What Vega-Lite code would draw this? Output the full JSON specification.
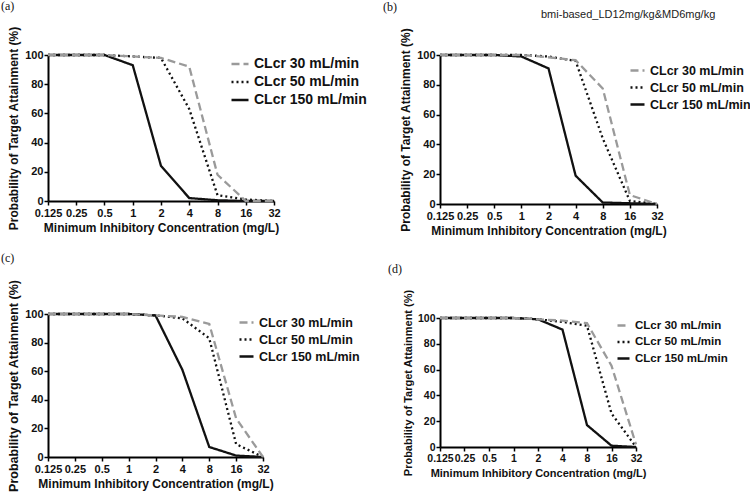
{
  "$schema": "https://vega.github.io/schema/vega-lite/v6.json",
  "padding": {"left": 1, "top": 0, "right": 0, "bottom": 0},
  "background": "white",
  "title": {"text": "bmi-based_LD12mg/kg&MD6mg/kg", "anchor": "start", "frame": "bounds", "offset": -20, "dx": 540, "font": "Liberation Sans", "fontSize": 11, "fontWeight": "normal", "color": "#222"},
  "config": {
    "view": {"stroke": null},
    "axis": {"domainColor": "#000", "domainWidth": 2, "tickColor": "#000", "tickWidth": 1.5, "tickSize": 4, "labelFont": "Liberation Sans", "labelFontWeight": "bold", "labelFontSize": 11, "labelColor": "#111", "titleFont": "Liberation Sans", "titleFontWeight": "bold", "titleFontSize": 12, "titleColor": "#111", "grid": false, "labelPadding": 1, "labelFlush": false, "labelOverlap": false},
    "axisX": {"labelPadding": 2, "titlePadding": 4},
    "axisY": {"titlePadding": 4},
    "legend": {"title": null, "orient": "none", "symbolType": "stroke", "symbolStrokeWidth": 2.5, "labelFont": "Liberation Sans", "labelFontWeight": "bold", "labelColor": "#111", "labelOffset": 4, "padding": 0},
    "title": {"font": "Liberation Serif", "fontSize": 12, "fontWeight": "normal", "anchor": "start", "frame": "group", "color": "#111"}
  },
  "datasets": {
    "a": [
      {"mic": 0.125, "pta": 100, "group": "CLcr 150 mL/min"},
      {"mic": 0.25, "pta": 100, "group": "CLcr 150 mL/min"},
      {"mic": 0.5, "pta": 100, "group": "CLcr 150 mL/min"},
      {"mic": 1, "pta": 93, "group": "CLcr 150 mL/min"},
      {"mic": 2, "pta": 24, "group": "CLcr 150 mL/min"},
      {"mic": 4, "pta": 2, "group": "CLcr 150 mL/min"},
      {"mic": 8, "pta": 0.5, "group": "CLcr 150 mL/min"},
      {"mic": 16, "pta": 0, "group": "CLcr 150 mL/min"},
      {"mic": 32, "pta": 0, "group": "CLcr 150 mL/min"},
      {"mic": 0.125, "pta": 100, "group": "CLcr 50 mL/min"},
      {"mic": 0.25, "pta": 100, "group": "CLcr 50 mL/min"},
      {"mic": 0.5, "pta": 100, "group": "CLcr 50 mL/min"},
      {"mic": 1, "pta": 99, "group": "CLcr 50 mL/min"},
      {"mic": 2, "pta": 98, "group": "CLcr 50 mL/min"},
      {"mic": 4, "pta": 63, "group": "CLcr 50 mL/min"},
      {"mic": 8, "pta": 4, "group": "CLcr 50 mL/min"},
      {"mic": 16, "pta": 1, "group": "CLcr 50 mL/min"},
      {"mic": 32, "pta": 0, "group": "CLcr 50 mL/min"},
      {"mic": 0.125, "pta": 100, "group": "CLcr 30 mL/min"},
      {"mic": 0.25, "pta": 100, "group": "CLcr 30 mL/min"},
      {"mic": 0.5, "pta": 100, "group": "CLcr 30 mL/min"},
      {"mic": 1, "pta": 99, "group": "CLcr 30 mL/min"},
      {"mic": 2, "pta": 98, "group": "CLcr 30 mL/min"},
      {"mic": 4, "pta": 92, "group": "CLcr 30 mL/min"},
      {"mic": 8, "pta": 18, "group": "CLcr 30 mL/min"},
      {"mic": 16, "pta": 0, "group": "CLcr 30 mL/min"},
      {"mic": 32, "pta": 0, "group": "CLcr 30 mL/min"}
    ],
    "b": [
      {"mic": 0.125, "pta": 100, "group": "CLcr 150 mL/min"},
      {"mic": 0.25, "pta": 100, "group": "CLcr 150 mL/min"},
      {"mic": 0.5, "pta": 100, "group": "CLcr 150 mL/min"},
      {"mic": 1, "pta": 99, "group": "CLcr 150 mL/min"},
      {"mic": 2, "pta": 91, "group": "CLcr 150 mL/min"},
      {"mic": 4, "pta": 19, "group": "CLcr 150 mL/min"},
      {"mic": 8, "pta": 1, "group": "CLcr 150 mL/min"},
      {"mic": 16, "pta": 0.5, "group": "CLcr 150 mL/min"},
      {"mic": 32, "pta": 0, "group": "CLcr 150 mL/min"},
      {"mic": 0.125, "pta": 100, "group": "CLcr 50 mL/min"},
      {"mic": 0.25, "pta": 100, "group": "CLcr 50 mL/min"},
      {"mic": 0.5, "pta": 100, "group": "CLcr 50 mL/min"},
      {"mic": 1, "pta": 100, "group": "CLcr 50 mL/min"},
      {"mic": 2, "pta": 99, "group": "CLcr 50 mL/min"},
      {"mic": 4, "pta": 96, "group": "CLcr 50 mL/min"},
      {"mic": 8, "pta": 44, "group": "CLcr 50 mL/min"},
      {"mic": 16, "pta": 2, "group": "CLcr 50 mL/min"},
      {"mic": 32, "pta": 0, "group": "CLcr 50 mL/min"},
      {"mic": 0.125, "pta": 100, "group": "CLcr 30 mL/min"},
      {"mic": 0.25, "pta": 100, "group": "CLcr 30 mL/min"},
      {"mic": 0.5, "pta": 100, "group": "CLcr 30 mL/min"},
      {"mic": 1, "pta": 100, "group": "CLcr 30 mL/min"},
      {"mic": 2, "pta": 98.5, "group": "CLcr 30 mL/min"},
      {"mic": 4, "pta": 96.5, "group": "CLcr 30 mL/min"},
      {"mic": 8, "pta": 77.5, "group": "CLcr 30 mL/min"},
      {"mic": 16, "pta": 6, "group": "CLcr 30 mL/min"},
      {"mic": 32, "pta": 0, "group": "CLcr 30 mL/min"}
    ],
    "c": [
      {"mic": 0.125, "pta": 100, "group": "CLcr 150 mL/min"},
      {"mic": 0.25, "pta": 100, "group": "CLcr 150 mL/min"},
      {"mic": 0.5, "pta": 100, "group": "CLcr 150 mL/min"},
      {"mic": 1, "pta": 100, "group": "CLcr 150 mL/min"},
      {"mic": 2, "pta": 99, "group": "CLcr 150 mL/min"},
      {"mic": 4, "pta": 61, "group": "CLcr 150 mL/min"},
      {"mic": 8, "pta": 7, "group": "CLcr 150 mL/min"},
      {"mic": 16, "pta": 1, "group": "CLcr 150 mL/min"},
      {"mic": 32, "pta": 0, "group": "CLcr 150 mL/min"},
      {"mic": 0.125, "pta": 100, "group": "CLcr 50 mL/min"},
      {"mic": 0.25, "pta": 100, "group": "CLcr 50 mL/min"},
      {"mic": 0.5, "pta": 100, "group": "CLcr 50 mL/min"},
      {"mic": 1, "pta": 100, "group": "CLcr 50 mL/min"},
      {"mic": 2, "pta": 99, "group": "CLcr 50 mL/min"},
      {"mic": 4, "pta": 97, "group": "CLcr 50 mL/min"},
      {"mic": 8, "pta": 83, "group": "CLcr 50 mL/min"},
      {"mic": 16, "pta": 9, "group": "CLcr 50 mL/min"},
      {"mic": 32, "pta": 0, "group": "CLcr 50 mL/min"},
      {"mic": 0.125, "pta": 100, "group": "CLcr 30 mL/min"},
      {"mic": 0.25, "pta": 100, "group": "CLcr 30 mL/min"},
      {"mic": 0.5, "pta": 100, "group": "CLcr 30 mL/min"},
      {"mic": 1, "pta": 100, "group": "CLcr 30 mL/min"},
      {"mic": 2, "pta": 99, "group": "CLcr 30 mL/min"},
      {"mic": 4, "pta": 98, "group": "CLcr 30 mL/min"},
      {"mic": 8, "pta": 93, "group": "CLcr 30 mL/min"},
      {"mic": 16, "pta": 27, "group": "CLcr 30 mL/min"},
      {"mic": 32, "pta": 0, "group": "CLcr 30 mL/min"}
    ],
    "d": [
      {"mic": 0.125, "pta": 100, "group": "CLcr 150 mL/min"},
      {"mic": 0.25, "pta": 100, "group": "CLcr 150 mL/min"},
      {"mic": 0.5, "pta": 100, "group": "CLcr 150 mL/min"},
      {"mic": 1, "pta": 100, "group": "CLcr 150 mL/min"},
      {"mic": 2, "pta": 99, "group": "CLcr 150 mL/min"},
      {"mic": 4, "pta": 91, "group": "CLcr 150 mL/min"},
      {"mic": 8, "pta": 17, "group": "CLcr 150 mL/min"},
      {"mic": 16, "pta": 1, "group": "CLcr 150 mL/min"},
      {"mic": 32, "pta": 0, "group": "CLcr 150 mL/min"},
      {"mic": 0.125, "pta": 100, "group": "CLcr 50 mL/min"},
      {"mic": 0.25, "pta": 100, "group": "CLcr 50 mL/min"},
      {"mic": 0.5, "pta": 100, "group": "CLcr 50 mL/min"},
      {"mic": 1, "pta": 100, "group": "CLcr 50 mL/min"},
      {"mic": 2, "pta": 99, "group": "CLcr 50 mL/min"},
      {"mic": 4, "pta": 97, "group": "CLcr 50 mL/min"},
      {"mic": 8, "pta": 94, "group": "CLcr 50 mL/min"},
      {"mic": 16, "pta": 26, "group": "CLcr 50 mL/min"},
      {"mic": 32, "pta": 0, "group": "CLcr 50 mL/min"},
      {"mic": 0.125, "pta": 100, "group": "CLcr 30 mL/min"},
      {"mic": 0.25, "pta": 100, "group": "CLcr 30 mL/min"},
      {"mic": 0.5, "pta": 100, "group": "CLcr 30 mL/min"},
      {"mic": 1, "pta": 100, "group": "CLcr 30 mL/min"},
      {"mic": 2, "pta": 99, "group": "CLcr 30 mL/min"},
      {"mic": 4, "pta": 98, "group": "CLcr 30 mL/min"},
      {"mic": 8, "pta": 96, "group": "CLcr 30 mL/min"},
      {"mic": 16, "pta": 63, "group": "CLcr 30 mL/min"},
      {"mic": 32, "pta": 2, "group": "CLcr 30 mL/min"}
    ]
  },
  "resolve": {"scale": {"color": "independent", "strokeDash": "independent", "x": "independent", "y": "independent"}, "legend": {"color": "independent", "strokeDash": "independent"}},
  "spacing": 16,
  "hconcat": [
    {
      "spacing": 19,
      "resolve": {"scale": {"color": "independent", "strokeDash": "independent", "x": "independent", "y": "independent"}, "legend": {"color": "independent", "strokeDash": "independent"}},
      "vconcat": [
        {
          "width": 226, "height": 146,
          "data": {"name": "a"},
          "title": {"text": "(a)", "dx": -47, "offset": 12.7},
          "mark": {"type": "line", "strokeWidth": 2.3},
          "encoding": {
            "x": {"field": "mic", "type": "quantitative", "scale": {"type": "log", "base": 2, "domain": [0.125, 32], "nice": false}, "axis": {"values": [0.125, 0.25, 0.5, 1, 2, 4, 8, 16, 32], "format": "~g", "title": "Minimum Inhibitory Concentration (mg/L)"}},
            "y": {"field": "pta", "type": "quantitative", "scale": {"domain": [0, 100], "nice": false}, "axis": {"values": [0, 20, 40, 60, 80, 100], "title": "Probability of Target Attainment (%)"}},
            "color": {"field": "group", "type": "nominal", "scale": {"domain": ["CLcr 30 mL/min", "CLcr 50 mL/min", "CLcr 150 mL/min"], "range": ["#9a9a9a", "#111111", "#111111"]}, "legend": {"legendX": 182, "legendY": -1, "labelFontSize": 14, "rowPadding": 1, "symbolSize": 289}},
            "strokeDash": {"field": "group", "type": "nominal", "scale": {"domain": ["CLcr 30 mL/min", "CLcr 50 mL/min", "CLcr 150 mL/min"], "range": [[8, 4], [2, 3], [1, 0]]}, "legend": {"legendX": 182, "legendY": -1, "labelFontSize": 14, "rowPadding": 1, "symbolSize": 289}}
          }
        },
        {
          "width": 215, "height": 143,
          "data": {"name": "c"},
          "title": {"text": "(c)", "dx": -47, "offset": 14},
          "mark": {"type": "line", "strokeWidth": 2.3},
          "encoding": {
            "x": {"field": "mic", "type": "quantitative", "scale": {"type": "log", "base": 2, "domain": [0.125, 32], "nice": false}, "axis": {"values": [0.125, 0.25, 0.5, 1, 2, 4, 8, 16, 32], "format": "~g", "title": "Minimum Inhibitory Concentration (mg/L)"}},
            "y": {"field": "pta", "type": "quantitative", "scale": {"domain": [0, 100], "nice": false}, "axis": {"values": [0, 20, 40, 60, 80, 100], "title": "Probability of Target Attainment (%)", "titleFontSize": 12.5}},
            "color": {"field": "group", "type": "nominal", "scale": {"domain": ["CLcr 30 mL/min", "CLcr 50 mL/min", "CLcr 150 mL/min"], "range": ["#9a9a9a", "#111111", "#111111"]}, "legend": {"legendX": 190, "legendY": 0, "labelFontSize": 12.5, "rowPadding": 2, "symbolSize": 196}},
            "strokeDash": {"field": "group", "type": "nominal", "scale": {"domain": ["CLcr 30 mL/min", "CLcr 50 mL/min", "CLcr 150 mL/min"], "range": [[8, 4], [2, 3], [1, 0]]}, "legend": {"legendX": 190, "legendY": 0, "labelFontSize": 12.5, "rowPadding": 2, "symbolSize": 196}}
          }
        }
      ]
    },
    {
      "spacing": 27,
      "resolve": {"scale": {"color": "independent", "strokeDash": "independent", "x": "independent", "y": "independent"}, "legend": {"color": "independent", "strokeDash": "independent"}},
      "vconcat": [
        {
          "width": 217, "height": 149,
          "data": {"name": "b"},
          "title": {"text": "(b)", "dx": -57, "offset": 13.2},
          "mark": {"type": "line", "strokeWidth": 2.3},
          "encoding": {
            "x": {"field": "mic", "type": "quantitative", "scale": {"type": "log", "base": 2, "domain": [0.125, 32], "nice": false}, "axis": {"values": [0.125, 0.25, 0.5, 1, 2, 4, 8, 16, 32], "format": "~g", "title": "Minimum Inhibitory Concentration (mg/L)"}},
            "y": {"field": "pta", "type": "quantitative", "scale": {"domain": [0, 100], "nice": false}, "axis": {"values": [0, 20, 40, 60, 80, 100], "title": "Probability of Target Attainment (%)"}},
            "color": {"field": "group", "type": "nominal", "scale": {"domain": ["CLcr 30 mL/min", "CLcr 50 mL/min", "CLcr 150 mL/min"], "range": ["#9a9a9a", "#111111", "#111111"]}, "legend": {"legendX": 189, "legendY": 7, "labelFontSize": 12.5, "rowPadding": 2, "symbolSize": 196}},
            "strokeDash": {"field": "group", "type": "nominal", "scale": {"domain": ["CLcr 30 mL/min", "CLcr 50 mL/min", "CLcr 150 mL/min"], "range": [[8, 4], [2, 3], [1, 0]]}, "legend": {"legendX": 189, "legendY": 7, "labelFontSize": 12.5, "rowPadding": 2, "symbolSize": 196}}
          }
        },
        {
          "width": 196, "height": 129,
          "data": {"name": "d"},
          "title": {"text": "(d)", "dx": -52, "offset": 12.7},
          "mark": {"type": "line", "strokeWidth": 2.3},
          "encoding": {
            "x": {"field": "mic", "type": "quantitative", "scale": {"type": "log", "base": 2, "domain": [0.125, 32], "nice": false}, "axis": {"values": [0.125, 0.25, 0.5, 1, 2, 4, 8, 16, 32], "format": "~g", "title": "Minimum Inhibitory Concentration (mg/L)", "titleFontSize": 11, "labelFontSize": 10.5}},
            "y": {"field": "pta", "type": "quantitative", "scale": {"domain": [0, 100], "nice": false}, "axis": {"values": [0, 20, 40, 60, 80, 100], "title": "Probability of Target Attainment (%)", "titleFontSize": 11, "labelFontSize": 10.5}},
            "color": {"field": "group", "type": "nominal", "scale": {"domain": ["CLcr 30 mL/min", "CLcr 50 mL/min", "CLcr 150 mL/min"], "range": ["#9a9a9a", "#111111", "#111111"]}, "legend": {"legendX": 176, "legendY": 0, "labelFontSize": 11.5, "rowPadding": 3.5, "symbolSize": 144}},
            "strokeDash": {"field": "group", "type": "nominal", "scale": {"domain": ["CLcr 30 mL/min", "CLcr 50 mL/min", "CLcr 150 mL/min"], "range": [[8, 4], [2, 3], [1, 0]]}, "legend": {"legendX": 176, "legendY": 0, "labelFontSize": 11.5, "rowPadding": 3.5, "symbolSize": 144}}
          }
        }
      ]
    }
  ]
}
